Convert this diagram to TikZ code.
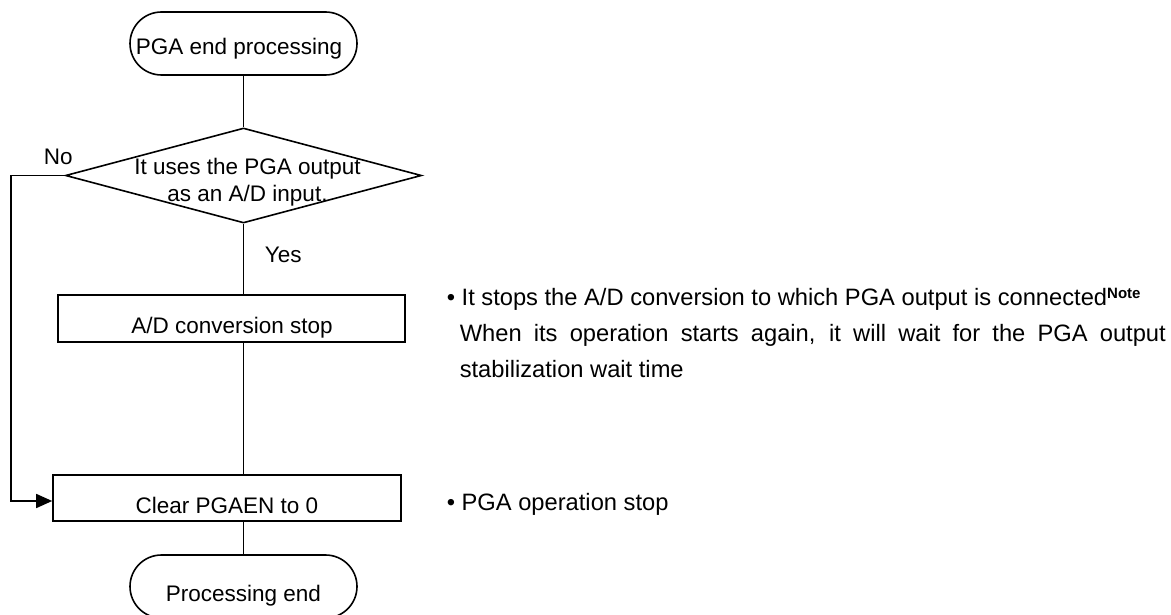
\documentclass[tikz,border=0pt]{standalone}
\usepackage{fontspec}
\setmainfont{Liberation Sans}
\usetikzlibrary{shapes.geometric,arrows.meta}
\begin{document}
\begin{tikzpicture}[x=1pt,y=-1pt, line width=1.6pt,
  term/.style={draw, rounded corners=31.5pt, minimum width=227pt, minimum height=63pt, inner sep=0pt},
  procbox/.style={draw, minimum height=47pt, inner sep=0pt},
  decbox/.style={draw, diamond, minimum width=356pt, minimum height=95pt, inner sep=0pt},
  lbl/.style={font=\fontsize{22.5}{26}\selectfont, inner sep=0pt, anchor=base},
  note/.style={font=\fontsize{23.7}{28}\selectfont, inner sep=0pt, anchor=base west},
  flow/.style={-{Triangle[length=16pt,width=14pt]}}]
\fill[white] (0,0) rectangle (1171,615);
\useasboundingbox (0,0) rectangle (1171,615);
% flowchart
\node[term] (start) at (243.5,43.5) {};
\node[lbl] (startT) at (239,55) {PGA end processing};
\node[decbox] (dec) at (243.5,175.5) {};
\node[lbl] (decT1) at (247.5,175) {It uses the PGA output};
\node[lbl] (decT2) at (247.5,201) {as an A/D input.};
\node[lbl, anchor=base west] (no) at (43,165) {No};
\node[lbl, anchor=base west] (yes) at (264,262) {Yes};
\node[procbox, minimum width=347pt] (ad) at (231.5,318.5) {};
\node[lbl] (adT) at (232,333) {A/D conversion stop};
\node[procbox, minimum width=348pt, minimum height=46pt] (clr) at (227,498) {};
\node[lbl] (clrT) at (227,513) {Clear PGAEN to 0};
\node[term] (end) at (243.5,586.5) {};
\node[lbl] (endT) at (243.5,601) {Processing end};
% connectors
\draw (start.south) -- (dec.north);
\draw (dec.south) -- (dec.south |- ad.north);
\draw (ad.south -| dec.south) -- (dec.south |- clr.north);
\draw (clr.south -| end.north) -- (end.north);
\coordinate (nocorner) at (11,175.5);
\draw[flow] (dec.west) -- (nocorner) |- ([yshift=-3pt]clr.west);
% annotations
\node[note] (n1) at (446,305) {• It stops the A/D conversion to which PGA output is connected\raisebox{7pt}{\fontsize{15}{15}\selectfont\bfseries Note}};
\node[note] (n2) at (459,341) {\makebox[706pt][s]{When its operation starts again, it will wait for the PGA output}};
\node[note] (n3) at (459,377) {stabilization wait time};
\node[note] (n4) at (446,510) {• PGA operation stop};
\end{tikzpicture}
\end{document}
